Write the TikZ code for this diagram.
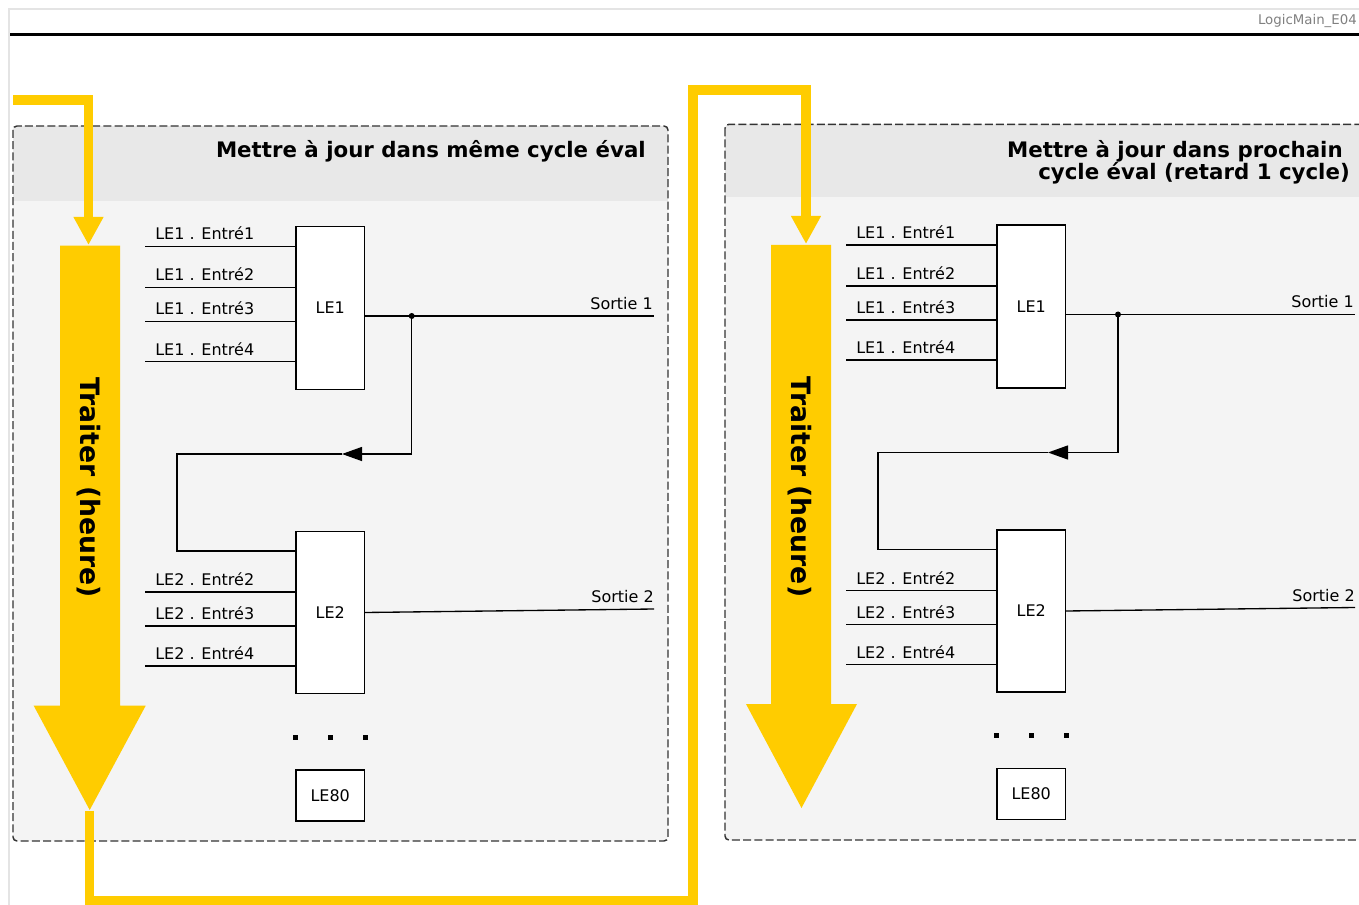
\documentclass[tikz,border=0pt]{standalone}
\usepackage{fontspec}
\setmainfont{DejaVu Sans}
\usetikzlibrary{arrows.meta}
\definecolor{gold}{HTML}{FFCC00}
\definecolor{hdrgray}{HTML}{E8E8E8}
\definecolor{bodygray}{HTML}{F4F4F4}
\definecolor{framegray}{HTML}{E4E4E4}
\definecolor{dashgray}{HTML}{333333}
\definecolor{tagray}{HTML}{808080}
\tikzset{
  lbl/.style={font=\fontsize{12}{14}\selectfont, inner sep=0pt, anchor=base west},
  blk/.style={draw, fill=white, line width=1pt, minimum width=51.2pt, inner sep=0pt, font=\fontsize{12}{14}\selectfont},
  wire/.style={line width=1pt},
  sq/.style={fill=black, minimum size=3.75pt, inner sep=0pt},
  goldline/.style={draw=gold, line width=7.1pt, line join=miter, line cap=butt},
  goldtip/.style={-{Triangle[length=21pt,width=21pt]}},
  ttl/.style={font=\fontsize{16}{16.5}\selectfont\bfseries, inner sep=0pt, anchor=base east},
  bigtxt/.style={font=\fontsize{20}{24}\selectfont\bfseries, inner sep=0pt},
  panelborder/.style={draw=dashgray, line width=1.1pt, dash pattern=on 6pt off 2.4pt, rounded corners=3pt},
}
\newcommand\panelcontent[3]{%
  \node[blk, minimum height=122pt] (#1le1) at (330.2,308) {LE1};
  \node[blk, minimum height=121.5pt] (#1le2) at (330.2,612.5) {LE2};
  \node[blk, minimum height=38.25pt] (#1le80) at (330.2,795.5) {LE80};
  \foreach \n/\y/\b in {1/246.5/240,2/287.5/281,3/321.5/315,4/361.5/355}{
    \coordinate (#1a\n) at (145,\y);
    \node[lbl] (#1la\n) at (155,\b) {LE1 . Entré\n};
    \draw[wire] (#1a\n) -- (#1le1.west |- #1a\n);
  }
  \foreach \n/\y/\b in {2/592/585.5,3/626/619.5,4/666/659.5}{
    \coordinate (#1b\n) at (145,\y);
    \node[lbl] (#1lb\n) at (155,\b) {LE2 . Entré\n};
    \draw[wire] (#1b\n) -- (#1le2.west |- #1b\n);
  }
  \coordinate (#1dot) at (#2,316);
  \coordinate (#1out1) at (654,316);
  \draw[wire] (#1le1.east |- #1dot) -- (#1out1);
  \fill (#1dot) circle[radius=2.25pt];
  \node[lbl, anchor=base east] (#1s1) at (653,309.5) {Sortie 1};
  \coordinate (#1fb) at (#3,454);
  \coordinate (#1c1) at (177,454);
  \coordinate (#1c2) at (177,551);
  \draw[wire, -{Triangle[length=15pt,width=10.5pt]}] (#1dot) |- (#1fb);
  \draw[wire] (#1fb) -- (#1c1) -- (#1c2) -- (#1le2.west |- #1c2);
  \coordinate (#1out2) at (654,609);
  \draw[wire] (#1le2.east) -- (#1out2);
  \node[lbl, anchor=base east] (#1s2) at (654,602.5) {Sortie 2};
  \node[sq] (#1d1) at (295.3,737.3) {};
  \node[sq] (#1d2) at (330.3,737.3) {};
  \node[sq] (#1d3) at (365.7,737.3) {};
}
\begin{document}
\begin{tikzpicture}[x=0.75pt,y=-0.75pt]
\useasboundingbox (0,0) rectangle (1359,905);
\clip (0,0) rectangle (1359,905);
\fill[white] (0,0) rectangle (1359,905);
% page frame
\draw[framegray, line width=1.5pt] (9,910) -- (9,9.5) -- (1365,9.5);
\draw[line width=2pt] (10,34.3) -- (1365,34.3);
\node[font=\fontsize{10}{12}\selectfont, text=tagray, inner sep=0pt, anchor=base east] (tag) at (1357,25) {LogicMain\_E04};
% left panel
\fill[bodygray, rounded corners=3pt] (13,126) rectangle (668,841);
\begin{scope}
  \clip[rounded corners=3pt] (13,126) rectangle (668,841);
  \fill[hdrgray] (13,126) rectangle (668,201.5);
\end{scope}
\draw[panelborder] (13,126) rectangle (668,841);
% right panel
\fill[bodygray, rounded corners=3pt] (725,124.3) rectangle (1380,840);
\begin{scope}
  \clip[rounded corners=3pt] (725,124.3) rectangle (1380,840);
  \fill[hdrgray] (725,124.3) rectangle (1380,197);
\end{scope}
\draw[panelborder] (725,124.3) rectangle (1380,840);
% titles
\node[ttl] (t1) at (646,158) {Mettre à jour dans même cycle éval};
\node[ttl] (t2a) at (1343,158) {Mettre à jour dans prochain};
\node[ttl] (t2b) at (1350,180) {cycle éval (retard 1 cycle)};
% panel contents
\panelcontent{L}{411.7}{342}
\begin{scope}[shift={(701,-1.5)}]
\panelcontent{R}{417}{347}
\end{scope}
% big yellow arrows
\fill[gold] (60,245.7) -- (120,245.7) -- (120,705.7) -- (145.7,705.7) -- (89.7,810) -- (33.7,705.7) -- (60,705.7) -- cycle;
\node[bigtxt, rotate=-90] (trL) at (89,487.5) {Traiter (heure)};
\fill[gold] (771,245) -- (831,245) -- (831,704) -- (857,704) -- (801.5,808) -- (746,704) -- (771,704) -- cycle;
\node[bigtxt, rotate=-90] (trR) at (800,487) {Traiter (heure)};
% yellow flow lines
\coordinate (ys) at (13,100);
\coordinate (y1) at (88.5,100);
\coordinate (lhead) at (88.5,245);
\draw[goldline, goldtip] (ys) -- (y1) -- (lhead);
\coordinate (ltail) at (89.5,810.5);
\coordinate (b1) at (89.5,901);
\coordinate (b2) at (693,901);
\coordinate (b3) at (693,90);
\coordinate (b4) at (806,90);
\coordinate (rhead) at (806,244);
\draw[goldline, goldtip] (ltail) -- (b1) -- (b2) -- (b3) -- (b4) -- (rhead);
\end{tikzpicture}
\end{document}
